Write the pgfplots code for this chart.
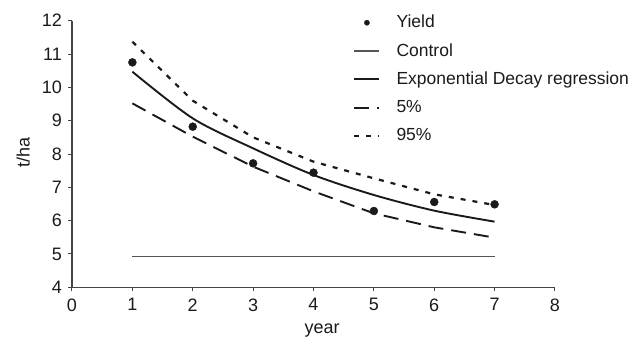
\documentclass[border=0pt]{standalone}
\usepackage{fontspec}
\setmainfont{Liberation Sans}
\usepackage{pgfplots}
\pgfplotsset{compat=1.18}
\definecolor{axgray}{HTML}{444444}
\definecolor{ctrlgray}{HTML}{555555}
\definecolor{txt}{HTML}{1A1A1A}
\pgfplotsset{dotlegend/.style={legend image code/.code={\draw[mark size=2.6bp,##1] plot coordinates {(12.5bp,0bp)};}}}
\begin{document}
\begin{tikzpicture}
\useasboundingbox (-72bp,-51.7bp) rectangle (562bp,287.3bp);
\begin{axis}[
  at={(0,0)}, anchor=origin,
  scale only axis, width=483bp, height=266.6bp,
  xmin=0, xmax=8, ymin=4, ymax=12,
  xtick={0,...,8}, ytick={4,...,12},
  axis lines=left,
  axis line style={-, color=axgray, line width=1.2bp},
  tick style={color=axgray, line width=1bp},
  tick align=outside, major tick length=4bp,
  /pgf/number format/assume math mode=true,
  tick label style={font=\fontsize{18bp}{21bp}\selectfont, text=txt},
  xticklabel style={inner sep=0pt, anchor=north, yshift=-7bp},
  yticklabel style={inner sep=0pt, anchor=east, xshift=-6bp},
  xlabel={year}, ylabel={t/ha},
  label style={font=\fontsize{18bp}{21bp}\selectfont, text=txt, inner sep=0pt},
  xlabel style={at={(axis description cs:0.518,-0.135)}, anchor=north},
  ylabel style={at={(axis description cs:-0.087,0.507)}, anchor=south},
  legend style={at={(rel axis cs:0.582,1.025)}, anchor=north west, draw=none, fill=none,
    font=\fontsize{17.5bp}{21bp}\selectfont, text=txt, inner sep=0pt,
    nodes={inner sep=0pt, text height=13.5bp, text depth=3.5bp},
    row sep=11.3bp, column sep=16bp},
  legend cell align=left,
  legend image code/.code={\draw[#1] plot coordinates {(0bp,0bp) (12.5bp,0bp) (25bp,0bp)};},
  clip=false,
]
\addplot[only marks, mark=*, mark size=4bp, color=txt, dotlegend]
  coordinates {(1,10.75) (2,8.82) (3,7.72) (4,7.44) (5,6.29) (6,6.56) (7,6.49)};
\addlegendentry{Yield}
\addplot[no marks, color=ctrlgray, line width=1.2bp]
  coordinates {(1,4.93) (7,4.93)};
\addlegendentry{Control}
\addplot[no marks, smooth, color=txt, line width=1.9bp]
  coordinates {(1,10.47) (2,9.07) (3,8.17) (4,7.37) (5,6.77) (6,6.30) (7,5.97)};
\addlegendentry{Exponential Decay regression}
\addplot[no marks, color=txt, line width=1.9bp, dash pattern=on 15bp off 8bp]
  coordinates {(1,9.52) (2,8.52) (3,7.62) (4,6.88) (5,6.22) (6,5.80) (7,5.49)};
\addlegendentry{5\%}
\addplot[no marks, color=txt, line width=2.2bp, dash pattern=on 5bp off 7bp]
  coordinates {(1,11.37) (2,9.60) (3,8.50) (4,7.77) (5,7.27) (6,6.79) (7,6.47)};
\addlegendentry{95\%}
\end{axis}
\end{tikzpicture}
\end{document}
